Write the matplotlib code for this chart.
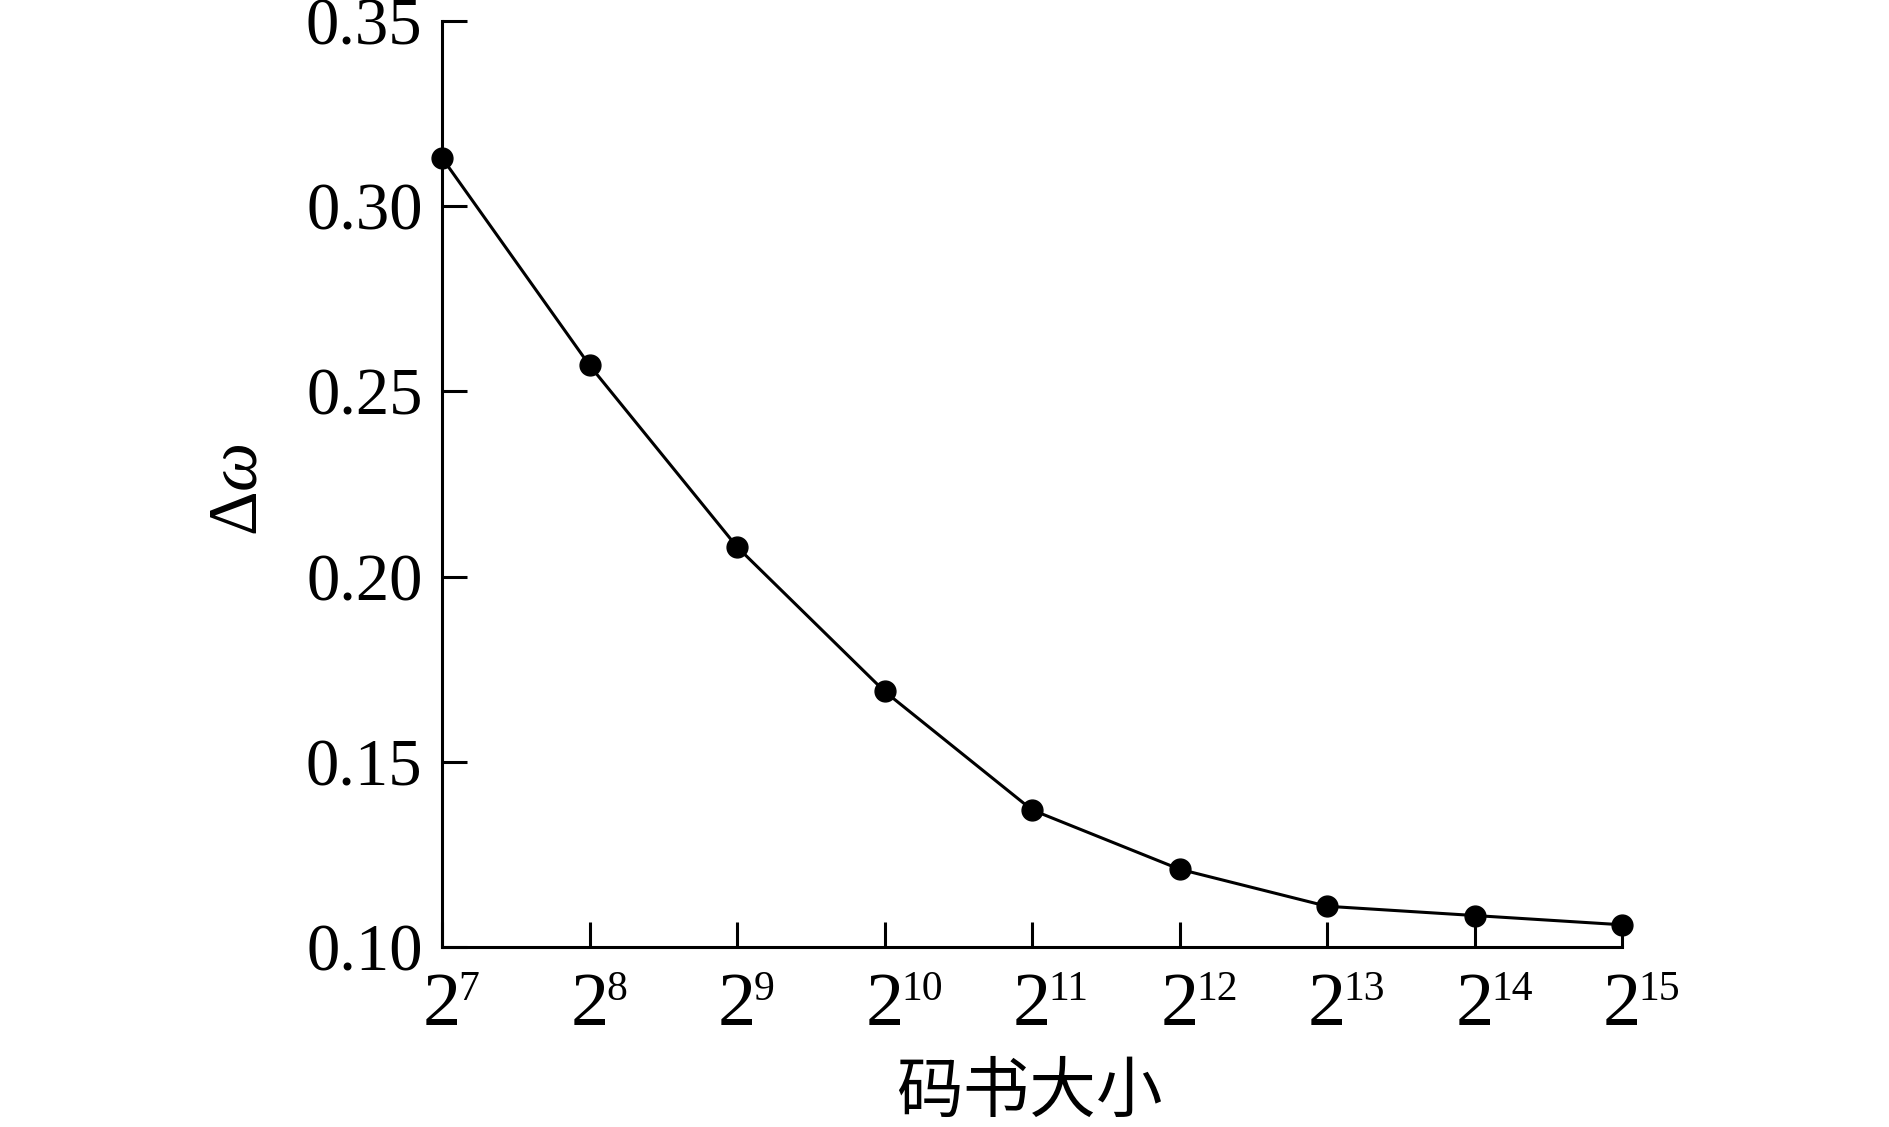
import matplotlib
matplotlib.use("Agg")
import matplotlib.pyplot as plt
from matplotlib.ticker import FixedLocator, FixedFormatter

plt.rcParams['font.family'] = ['Liberation Serif', 'Noto Sans CJK SC', 'DejaVu Sans']
plt.rcParams['mathtext.fontset'] = 'custom'
plt.rcParams['mathtext.rm'] = 'Liberation Serif'
plt.rcParams['mathtext.it'] = 'Liberation Serif:italic'
plt.rcParams['mathtext.bf'] = 'Liberation Serif:bold'

exponents = [7, 8, 9, 10, 11, 12, 13, 14, 15]
delta_omega = [0.313, 0.257, 0.208, 0.169, 0.137, 0.121, 0.111, 0.1085, 0.106]
x_base = "2"
x_exponent_labels = [str(e) for e in exponents]
y_ticks = [0.10, 0.15, 0.20, 0.25, 0.30, 0.35]
y_ticklabels = ["0.10", "0.15", "0.20", "0.25", "0.30", "0.35"]

fig = plt.figure(figsize=(18.89, 11.27), dpi=100)
ax = fig.add_axes([0.2340, 0.1597, 0.8587 - 0.2340, 0.9816 - 0.1597])

ax.plot(exponents, delta_omega, color='black', lw=2.2, marker='o',
        markersize=15, clip_on=False, zorder=3)

ax.set_xlim(7, 15)
ax.set_ylim(0.10, 0.35)
ax.xaxis.set_major_locator(FixedLocator(exponents))
ax.xaxis.set_major_formatter(FixedFormatter([""] * len(exponents)))
ax.yaxis.set_major_locator(FixedLocator(y_ticks))
ax.yaxis.set_major_formatter(FixedFormatter(y_ticklabels))

for s in ['top', 'right']:
    ax.spines[s].set_visible(False)
for s in ['left', 'bottom']:
    ax.spines[s].set_linewidth(2.2)

ax.tick_params(axis='both', direction='in', length=18, width=2.2, labelsize=48)
ax.tick_params(axis='y', pad=14)

# x tick labels: base "2" with a small superscript exponent
for e, lab in zip(exponents, x_exponent_labels):
    ax.annotate(x_base, xy=(e, 0), xycoords=('data', 'axes fraction'),
                xytext=(0, -56), textcoords='offset points',
                ha='center', va='baseline', fontsize=55, annotation_clip=False)
    ax.annotate(lab, xy=(e, 0), xycoords=('data', 'axes fraction'),
                xytext=(12.0, -38.2), textcoords='offset points',
                ha='left', va='baseline', fontsize=30, annotation_clip=False)

ax.set_xlabel("码书大小", fontsize=48, family=['Noto Sans CJK SC', 'DejaVu Sans'])
ax.xaxis.label.set_va('center')
ax.xaxis.set_label_coords(0.4975, -0.1576)

ax.set_ylabel(r"$\Delta\omega$", fontsize=50)
ax.yaxis.label.set_va('center')
ax.yaxis.label.set_ha('center')
ax.yaxis.set_label_coords(-0.1712, 0.4934)

fig.savefig("out.png", dpi=100)
